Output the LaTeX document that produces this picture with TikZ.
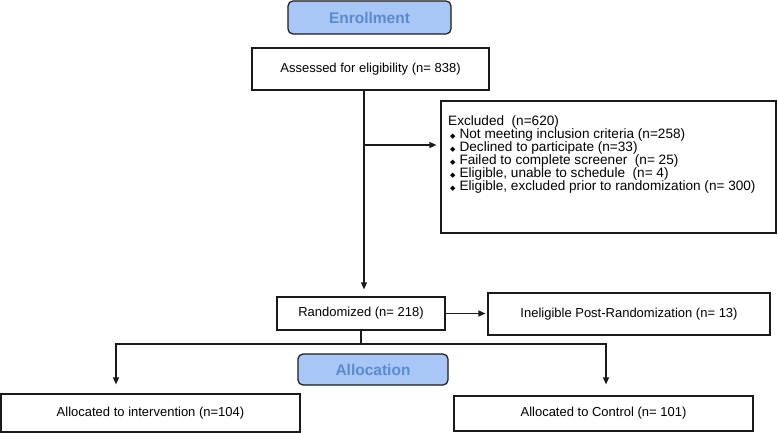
\documentclass[tikz,border=0pt]{standalone}
\usepackage{fontspec}
\setmainfont{Liberation Sans}
\newfontfamily\dejavu{DejaVu Sans}
\usetikzlibrary{arrows.meta,calc}
\definecolor{hdrfill}{HTML}{A8C6F6}
\definecolor{hdrtext}{HTML}{5A8BD0}
\definecolor{lineclr}{HTML}{1A1A1A}
\newcommand{\dbul}{{\dejavu\fontsize{7}{7}\selectfont ◆}}
\tikzset{
  box/.style={draw=lineclr, line width=1.2pt, inner sep=0pt, font=\fontsize{13}{13}\selectfont},
  hdr/.style={draw=lineclr, line width=1.2pt, fill=hdrfill, rounded corners=5pt, text=hdrtext, font=\bfseries\fontsize{15.5}{15.5}\selectfont, inner sep=0pt},
  arr/.style={draw=lineclr, line width=1.2pt, -{Triangle[length=7pt,width=6pt]}},
  ln/.style={draw=lineclr, line width=1.2pt}
}
\begin{document}
\begin{tikzpicture}[x=1pt,y=-1pt]
\useasboundingbox (0,0) rectangle (778,433);
\node[hdr, minimum width=163pt, minimum height=33pt] (enroll) at (369.5,17.5) {Enrollment};
\node[box, minimum width=237pt, minimum height=42pt] (assessed) at (370.5,69) {Assessed for eligibility (n= 838)};
\node[box, minimum width=335pt, minimum height=132pt] (excl) at (608.5,167) {};
\node[anchor=north west, inner sep=0pt, align=left, font=\fontsize{13.6}{13}\selectfont] (excltext) at (448,115)
  {Excluded\ \ (n=620)\\
   \hspace{2pt}\dbul\hspace{4pt}Not meeting inclusion criteria (n=258)\\
   \hspace{2pt}\dbul\hspace{4pt}Declined to participate (n=33)\\
   \hspace{2pt}\dbul\hspace{4pt}Failed to complete screener\ \ (n= 25)\\
   \hspace{2pt}\dbul\hspace{4pt}Eligible, unable to schedule\ \ (n= 4)\\
   \hspace{2pt}\dbul\hspace{4pt}Eligible, excluded prior to randomization (n= 300)};
\node[box, minimum width=168pt, minimum height=33pt] (rand) at (361,313.5) {Randomized (n= 218)};
\node[box, minimum width=282pt, minimum height=42pt] (inel) at (629,314) {Ineligible Post-Randomization (n= 13)};
\node[hdr, minimum width=150pt, minimum height=31pt] (alloc) at (373,369.5) {Allocation};
\node[box, minimum width=299pt, minimum height=38pt] (interv) at (150.5,413) {Allocated to intervention (n=104)};
\node[box, minimum width=299pt, minimum height=35pt] (ctrl) at (603.5,413.5) {Allocated to Control (n= 101)};
% connectors
\coordinate (vx) at (364,0);
\coordinate (ey) at (0,145);
\draw[arr, shorten >=7pt] (assessed.south -| vx) -- (rand.north -| vx);
\draw[arr, shorten >=4pt] (vx |- ey) -- (excl.west |- ey);
\draw[arr, shorten >=2pt] (rand.east) -- (inel.west |- rand.east);
\coordinate (split) at (361,344);
\coordinate (lx) at (116,344);
\coordinate (rx) at (606,344);
\draw[ln] (rand.south) -- (split);
\draw[arr, shorten >=9pt] (split) -- (lx) -- (lx |- interv.north);
\draw[arr, shorten >=11pt] (split) -- (rx) -- (rx |- ctrl.north);
\end{tikzpicture}
\end{document}
